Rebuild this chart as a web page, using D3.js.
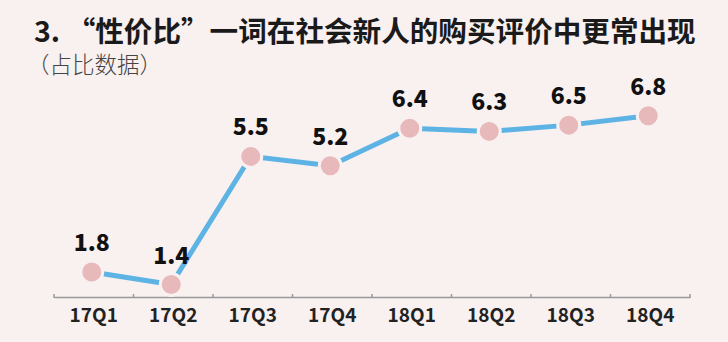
<!DOCTYPE html>
<html><head><meta charset="utf-8">
<script src="https://cdn.jsdelivr.net/npm/d3@7/dist/d3.min.js"></script>
<style>
html,body{margin:0;padding:0;background:#f9f0f0;}
svg{display:block;}
text{font-family:"Noto Sans CJK SC","Noto Sans",sans-serif;}
</style></head><body>
<svg id="c" width="728" height="342"></svg>
<script>
const categories = ["17Q1","17Q2","17Q3","17Q4","18Q1","18Q2","18Q3","18Q4"];
const values = [1.8,1.4,5.5,5.2,6.4,6.3,6.5,6.8];
const title = "3. “性价比”一词在社会新人的购买评价中更常出现";
const subtitle = "（占比数据）";

const svg = d3.select("#c");
svg.append("rect").attr("width",728).attr("height",342).attr("fill","#f9f0f0");

svg.append("text").attr("x",34).attr("y",42).attr("font-size",28.6).attr("font-weight","bold")
  .attr("fill","#1a1a1a").text(title);
svg.append("text").attr("x",27).attr("y",73).attr("font-size",22.5).attr("font-weight",300)
  .attr("fill","#444").text(subtitle);

const x = d3.scaleBand().domain(categories).range([54,690]);
const y = d3.scaleLinear().domain([1,7]).range([297,109.5]);

const axis = svg.append("g").attr("transform","translate(0,297)")
  .call(d3.axisBottom(x).tickSize(0).tickPadding(0).tickFormat(""));
axis.select(".domain").attr("stroke","#999").attr("stroke-width",1.5);
axis.selectAll(".tick").remove();
const bounds = categories.map(c=>x(c)).concat([x.range()[1]]);
svg.append("g").selectAll("line").data(bounds).join("line")
  .attr("x1",d=>d).attr("x2",d=>d).attr("y1",294).attr("y2",298)
  .attr("stroke","#999").attr("stroke-width",1.5);

svg.append("g").selectAll("text").data(categories).join("text")
  .attr("x",d=>x(d)+x.bandwidth()/2).attr("y",322).attr("text-anchor","middle")
  .attr("font-size",19).attr("font-weight","bold").attr("fill","#222").text(d=>d);

const cx = (d,i)=>x(categories[i])+x.bandwidth()/2 - 2;
const line = d3.line().x((d,i)=>cx(d,i)).y(d=>y(d));
svg.append("path").datum(values).attr("d",line).attr("fill","none")
  .attr("stroke","#5cb3e4").attr("stroke-width",5);

svg.append("g").selectAll("circle").data(values).join("circle")
  .attr("cx",cx).attr("cy",d=>y(d)).attr("r",11).attr("fill","#e8b9bb")
  .attr("stroke","#f9f0f0").attr("stroke-width",3);

svg.append("g").selectAll("text").data(values).join("text")
  .attr("x",cx).attr("y",d=>y(d)-21).attr("text-anchor","middle")
  .attr("font-size",23).attr("font-weight",900).attr("fill","#111").text(d=>d.toFixed(1));
</script></body></html>
